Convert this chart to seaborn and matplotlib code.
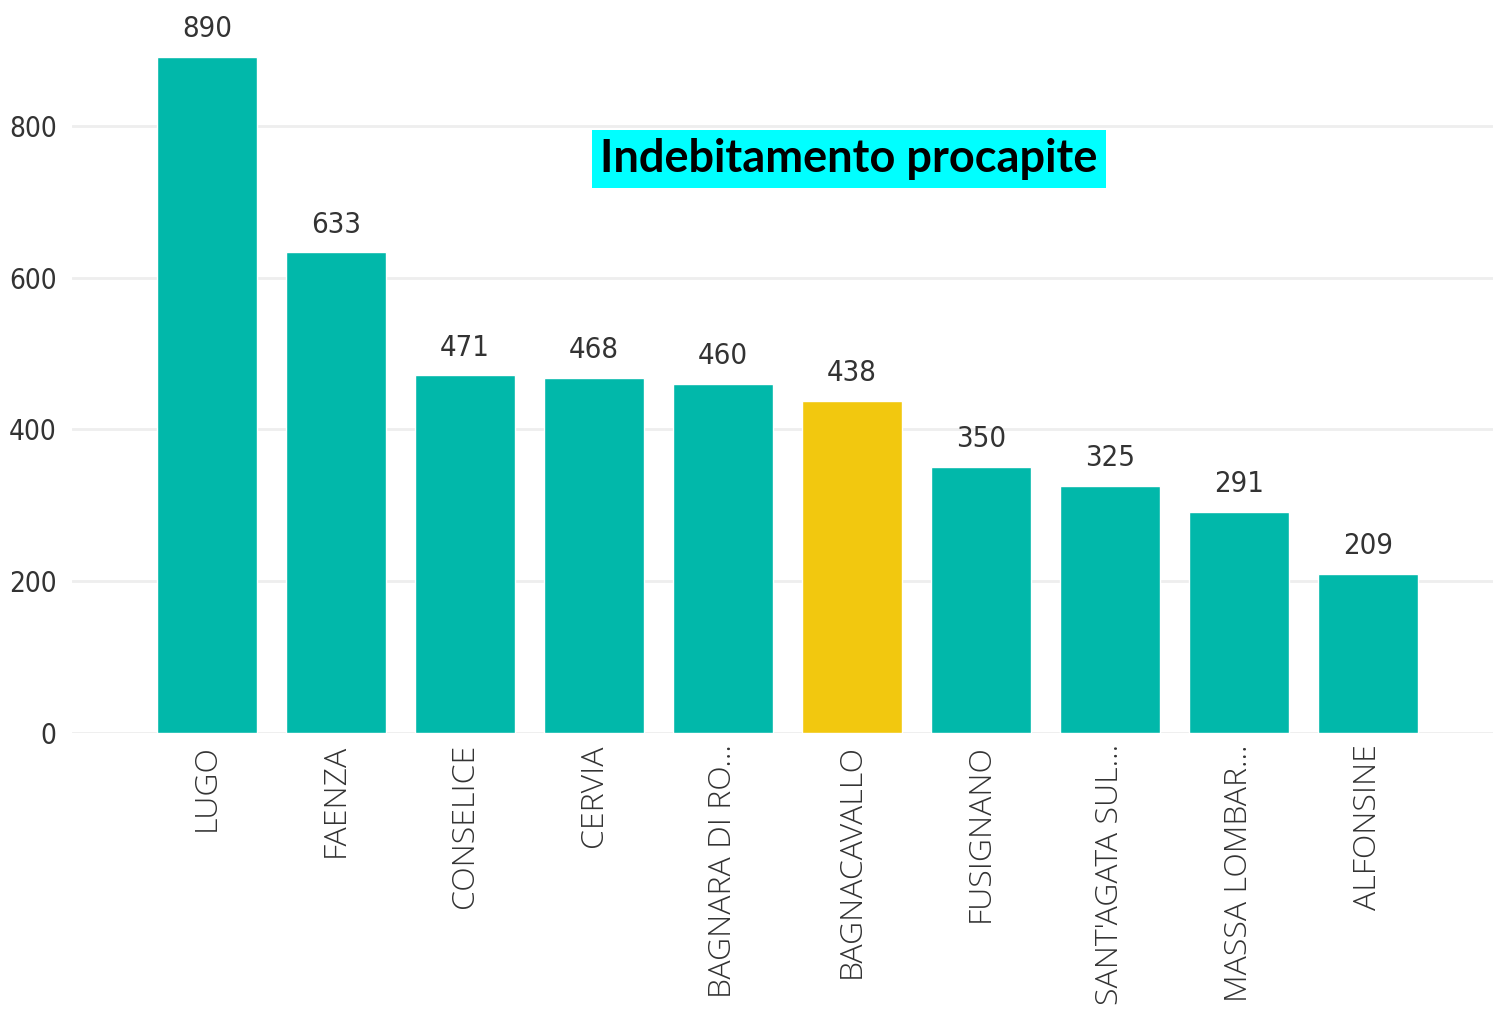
import matplotlib
matplotlib.use("Agg")
import matplotlib.pyplot as plt
import seaborn as sns
import pandas as pd

comuni = ["LUGO", "FAENZA", "CONSELICE", "CERVIA", "BAGNARA DI RO...",
          "BAGNACAVALLO", "FUSIGNANO", "SANT'AGATA SUL...", "MASSA LOMBAR...", "ALFONSINE"]
valori = [890, 633, 471, 468, 460, 438, 350, 325, 291, 209]
evidenziato = "BAGNACAVALLO"
titolo = "Indebitamento procapite"

TEAL = "#01B8AA"
YELLOW = "#F2C80F"

sns.set_theme(style="white")
plt.rcParams['font.family'] = ['Open Sans', 'DejaVu Sans']

df = pd.DataFrame({"comune": comuni, "valore": valori})
palette = {c: (YELLOW if c == evidenziato else TEAL) for c in comuni}

fig = plt.figure(figsize=(14.93, 10.13), dpi=100)
ax = fig.add_axes([72/1493, 280/1013, (1493-72)/1493, 728/1013])

sns.barplot(data=df, x="comune", y="valore", hue="comune", palette=palette,
            width=0.775, legend=False, ax=ax, saturation=1)

ax.set_xlim(-1.047, 9.97)
ax.set_ylim(0, 959)
ax.set_yticks([0, 200, 400, 600, 800])
ax.yaxis.grid(True, color="#EEEEEE", linewidth=2)
ax.set_axisbelow(True)
for s in ax.spines.values():
    s.set_visible(False)
ax.set_xlabel("")
ax.set_ylabel("")

narrow = ['DejaVu Sans']
ax.tick_params(axis="y", length=0, pad=11, labelsize=20, labelcolor="#333333")
for lab in ax.get_yticklabels():
    lab.set_family(narrow)
    lab.set_fontstretch("condensed")
ax.tick_params(axis="x", length=0, pad=8, labelsize=23, labelcolor="#333333")
for lab in ax.get_xticklabels():
    lab.set_rotation(90)
    lab.set_va("top")
    lab.set_ha("center")
    lab.set_fontweight("light")

for cont in ax.containers:
    ax.bar_label(cont, fmt="%d", padding=10, fontsize=21, color="#333333",
                 family=narrow, fontstretch="condensed")

fig.text(849/1493, 1 - 159/1013, titolo, fontsize=32.5, fontweight="bold",
         ha="center", va="center", color="black", family=['Lato', 'DejaVu Sans'],
         bbox=dict(facecolor="#00FFFF", edgecolor="none", pad=6))

fig.savefig("out.png", dpi=100, facecolor="white")
